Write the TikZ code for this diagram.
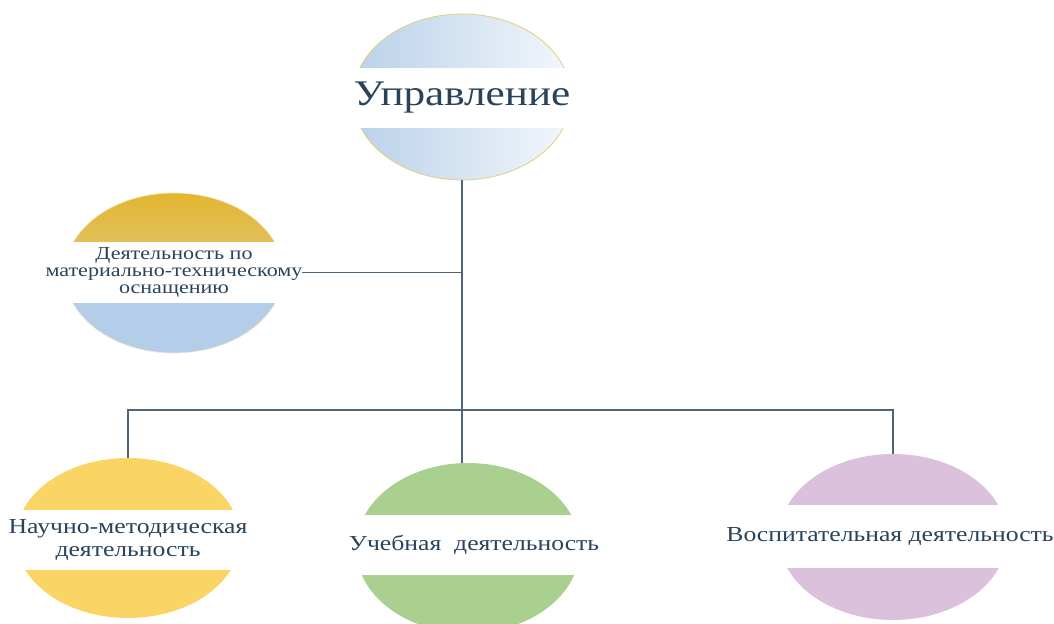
\documentclass[tikz,border=0pt]{standalone}
\usepackage{fontspec}
\setmainfont{Liberation Serif}[FakeStretch=1.2]
\usetikzlibrary{shapes.geometric}

\definecolor{linkgray}{HTML}{4F6479}
\definecolor{inkblue}{HTML}{29435B}
\definecolor{rimgold}{HTML}{E3CF7C}
\definecolor{upblue}{HTML}{B9D1EA}
\definecolor{upwhite}{HTML}{F3F7FB}
\definecolor{matgold}{HTML}{E4B630}
\definecolor{matpale}{HTML}{D8D5BA}
\definecolor{matblue}{HTML}{B4CEE9}
\definecolor{sciyellow}{HTML}{FAD566}
\definecolor{edugreen}{HTML}{A9D08E}
\definecolor{upbpink}{HTML}{DBC1DB}

\begin{document}
\begin{tikzpicture}[x=0.5pt,y=-0.5pt,
    elbow/.style={to path={-| (\tikztotarget)}}]
  \useasboundingbox (0,0) rectangle (1054,624);

  \begin{scope}[every node/.style={ellipse, inner sep=0pt, outer sep=0pt}]
    \node[minimum width=109pt, minimum height=83pt, draw=rimgold, line width=0.4pt,
          left color=upblue, right color=upwhite] (upr) at (462,97) {};
    \node[minimum width=109pt, minimum height=80pt, draw=rimgold!50, line width=0.3pt,
          path picture={
            \shade[top color=matgold, bottom color=matpale]
              (path picture bounding box.north west) rectangle (path picture bounding box.east);
            \fill[matblue]
              (path picture bounding box.west) rectangle (path picture bounding box.south east);
          }] (mat) at (174,273) {};
    \node[minimum width=112pt, minimum height=80pt, fill=sciyellow] (nauch) at (128,538) {};
    \node[minimum width=112pt, minimum height=85pt, fill=edugreen] (ucheb) at (468,548) {};
    \node[minimum width=114pt, minimum height=83pt, fill=upbpink] (vosp) at (893,537) {};
  \end{scope}

  % white bands with the titles
  \begin{scope}[every node/.style={fill=white, inner sep=0pt, outer sep=0pt,
      align=center, text=inkblue}]
    \node[minimum width=111pt, minimum height=30pt, font=\fontsize{18}{20}\selectfont]
      (uprlab) at (462,98) {Управление};
    \node[minimum width=111pt, minimum height=30.5pt, font=\fontsize{9.2}{8.6}\selectfont]
      (matlab) at (174,272.5) {Деятельность по\\материально-техническому\\оснащению};
    \node[minimum width=114pt, minimum height=30pt, font=\fontsize{10.7}{11.5}\selectfont]
      (nauchlab) at (128,540) {Научно-методическая\\деятельность};
    \node[minimum width=117pt, minimum height=30pt, font=\fontsize{10.7}{12}\selectfont]
      (uchlab) at (474,545) {Учебная\ \ деятельность};
    \node[minimum width=116pt, minimum height=31.5pt, font=\fontsize{10.7}{12}\selectfont]
      (vosplab) at (890,536.5) {Воспитательная деятельность};
  \end{scope}

  \begin{scope}[every edge/.style={draw=linkgray, line width=0.8pt}]
    \coordinate (bus) at (462,410);
    \path (upr) edge (bus);
    \path (matlab.east) edge (matlab.east -| bus);
    \path (bus) edge[elbow] (nauch.north);
    \path (bus) edge[elbow] (vosp.north);
    \path (bus) edge (bus |- ucheb.north);
  \end{scope}

\end{tikzpicture}
\end{document}
